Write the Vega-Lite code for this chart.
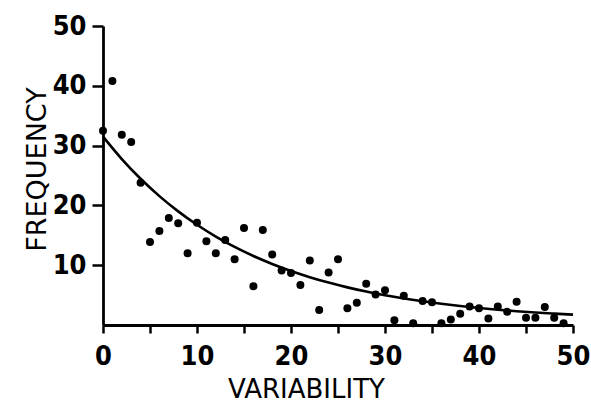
{
  "$schema": "https://vega.github.io/schema/vega-lite/v6.json",
  "width": 470,
  "height": 299,
  "autosize": {"type": "none"},
  "padding": {"left": 103, "top": 26, "right": 18, "bottom": 79},
  "background": "white",
  "config": {"view": {"stroke": null}},
  "datasets": {
    "points": [
      {"v": 0, "f": 32.5}, {"v": 1, "f": 40.8}, {"v": 2, "f": 31.8}, {"v": 3, "f": 30.6},
      {"v": 4, "f": 23.8}, {"v": 5, "f": 13.9}, {"v": 6, "f": 15.7}, {"v": 7, "f": 17.9},
      {"v": 8, "f": 17.0}, {"v": 9, "f": 12.0}, {"v": 10, "f": 17.1}, {"v": 11, "f": 14.0},
      {"v": 12, "f": 12.0}, {"v": 13, "f": 14.2}, {"v": 14, "f": 11.0}, {"v": 15, "f": 16.2},
      {"v": 16, "f": 6.5}, {"v": 17, "f": 15.9}, {"v": 18, "f": 11.8}, {"v": 19, "f": 9.1},
      {"v": 20, "f": 8.7}, {"v": 21, "f": 6.7}, {"v": 22, "f": 10.8}, {"v": 23, "f": 2.5},
      {"v": 24, "f": 8.8}, {"v": 25, "f": 11.0}, {"v": 26, "f": 2.8}, {"v": 27, "f": 3.7},
      {"v": 28, "f": 6.9}, {"v": 29, "f": 5.1}, {"v": 30, "f": 5.8}, {"v": 31, "f": 0.8},
      {"v": 32, "f": 4.9}, {"v": 33, "f": 0.3}, {"v": 34, "f": 4.0}, {"v": 35, "f": 3.8},
      {"v": 36, "f": 0.3}, {"v": 37, "f": 0.9}, {"v": 38, "f": 1.9}, {"v": 39, "f": 3.1},
      {"v": 40, "f": 2.8}, {"v": 41, "f": 1.1}, {"v": 42, "f": 3.1}, {"v": 43, "f": 2.2},
      {"v": 44, "f": 3.9}, {"v": 45, "f": 1.2}, {"v": 46, "f": 1.2}, {"v": 47, "f": 3.0},
      {"v": 48, "f": 1.2}, {"v": 49, "f": 0.3}
    ],
    "curve": [
      {"v": 0, "f": 31.5}, {"v": 2, "f": 27.75}, {"v": 4, "f": 24.45}, {"v": 6, "f": 21.55},
      {"v": 8, "f": 19.0}, {"v": 10, "f": 16.76}, {"v": 12, "f": 14.79}, {"v": 14, "f": 13.06},
      {"v": 16, "f": 11.54}, {"v": 18, "f": 10.21}, {"v": 20, "f": 9.03}, {"v": 22, "f": 8.0},
      {"v": 24, "f": 7.09}, {"v": 26, "f": 6.29}, {"v": 28, "f": 5.59}, {"v": 30, "f": 4.97},
      {"v": 32, "f": 4.43}, {"v": 34, "f": 3.96}, {"v": 36, "f": 3.54}, {"v": 38, "f": 3.17},
      {"v": 40, "f": 2.85}, {"v": 42, "f": 2.56}, {"v": 44, "f": 2.31}, {"v": 46, "f": 2.09},
      {"v": 48, "f": 1.9}, {"v": 50, "f": 1.73}
    ]
  },
  "layer": [
    {
      "data": {"name": "curve"},
      "mark": {"type": "line", "color": "black", "strokeWidth": 2.6, "interpolate": "monotone"},
      "encoding": {
        "x": {
          "field": "v", "type": "quantitative",
          "scale": {"domain": [0, 50], "nice": false},
          "axis": {
            "title": "VARIABILITY",
            "values": [0, 5, 10, 15, 20, 25, 30, 35, 40, 45, 50],
            "labelExpr": "datum.value % 10 == 0 ? datum.label : ''",
            "grid": false,
            "domainColor": "black", "domainWidth": 2.8,
            "tickColor": "black", "tickWidth": 2.5, "tickSize": 8,
            "labelFont": "DejaVu Sans Condensed, Noto Sans", "labelFontSize": 27, "labelFontWeight": "bold",
            "labelColor": "black", "labelPadding": 10, "labelFlush": false,
            "titleFont": "DejaVu Sans", "titleFontSize": 26, "titleFontWeight": "normal",
            "titleColor": "black", "titleBaseline": "alphabetic",
            "titleX": 203, "titleY": 72, "titleAlign": "center"
          }
        },
        "y": {
          "field": "f", "type": "quantitative",
          "scale": {"domain": [0, 50], "nice": false},
          "axis": {
            "title": "FREQUENCY",
            "values": [10, 20, 30, 40, 50],
            "grid": false,
            "domainColor": "black", "domainWidth": 2.8,
            "tickColor": "black", "tickWidth": 2.5, "tickSize": 11,
            "labelFont": "DejaVu Sans Condensed, Noto Sans", "labelFontSize": 27, "labelFontWeight": "bold",
            "labelColor": "black", "labelPadding": 6,
            "titleFont": "DejaVu Sans", "titleFontSize": 27, "titleFontWeight": "normal",
            "titleColor": "black", "titleBaseline": "alphabetic",
            "titleX": -58, "titleY": 143, "titleAngle": -90, "titleAlign": "center"
          }
        }
      }
    },
    {
      "data": {"name": "points"},
      "mark": {"type": "circle", "color": "black", "opacity": 1, "size": 64},
      "encoding": {
        "x": {"field": "v", "type": "quantitative"},
        "y": {"field": "f", "type": "quantitative"}
      }
    }
  ]
}
